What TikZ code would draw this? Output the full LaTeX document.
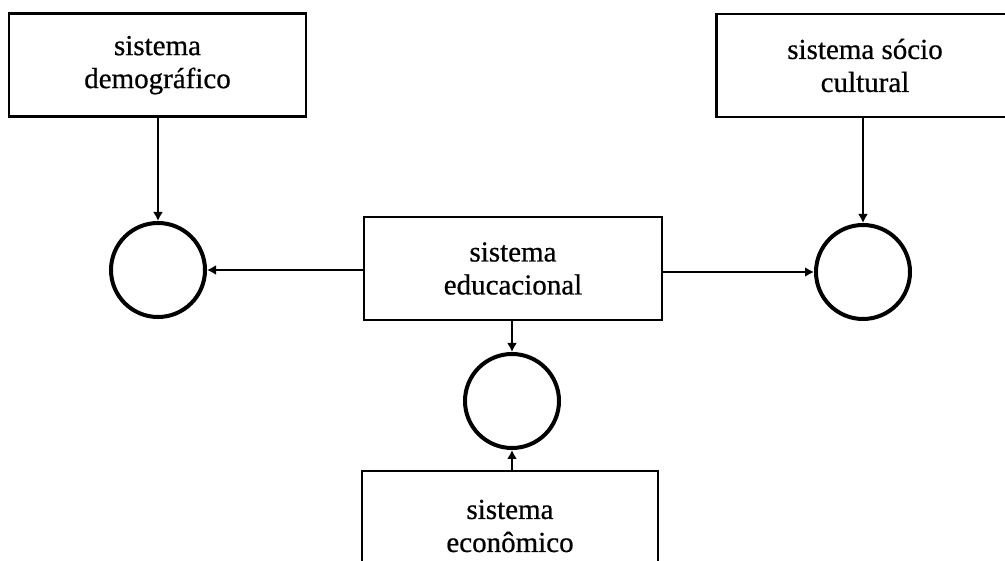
\documentclass[tikz,border=0pt]{standalone}
\usepackage{fontspec}
\setmainfont{Liberation Serif}[FakeBold=0.6]
\usetikzlibrary{arrows.meta}
\begin{document}
\begin{tikzpicture}[x=1pt,y=-1pt,
  sysbox/.style={draw,line width=2.8pt,minimum width=297pt,minimum height=103pt,inner sep=0pt,align=center,font=\fontsize{29}{33}\selectfont},
  ring/.style={draw,circle,line width=4pt,minimum size=94pt,inner sep=0pt},
  conn/.style={line width=2pt,-{Latex[length=9pt,width=10pt]}}]
\clip (0,0) rectangle (1005,561);
\fill[white] (0,0) rectangle (1005,561);
\node[sysbox] (dem) at (157.5,65) {\raisebox{-7pt}{\begin{tabular}{@{}c@{}}sistema\\demográfico\end{tabular}}};
\node[sysbox] (soc) at (865,65.5) {sistema sócio\\cultural};
\node[sysbox,minimum width=298pt] (edu) at (513,268.5) {sistema\\educacional};
\node[sysbox,minimum width=296pt,minimum height=110pt] (eco) at (510,526) {sistema\\econômico};
\node[ring] (c1) at (158,270) {};
\node[ring] (c2) at (863,272) {};
\node[ring] (c3) at (512,401) {};
\draw[conn] (c1 |- dem.south) -- (c1.north);
\draw[conn] (c2 |- soc.south) -- (c2.north);
\draw[conn] (edu.west |- c1) -- (c1.east);
\draw[conn] (edu.east |- c2) -- (c2.west);
\draw[conn] (c3 |- edu.south) -- (c3.north);
\draw[conn] (c3 |- eco.north) -- (c3.south);
\end{tikzpicture}
\end{document}
